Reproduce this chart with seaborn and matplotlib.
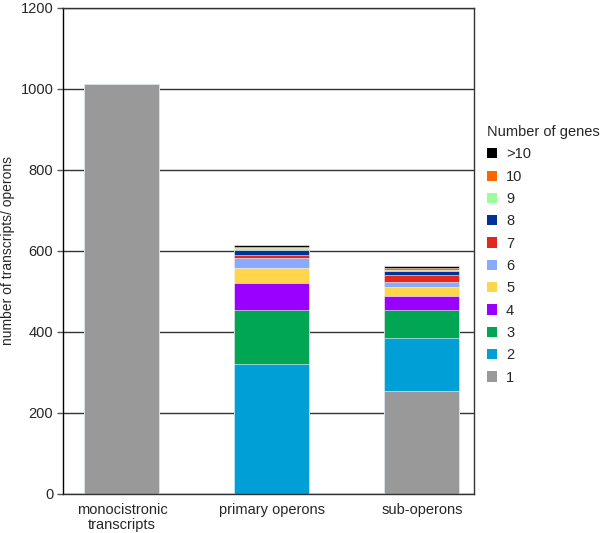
import numpy as np
import pandas as pd
import seaborn as sns
import matplotlib.pyplot as plt
from matplotlib.patches import Patch

categories = ['monocistronic\ntranscripts', 'primary operons', 'sub-operons']
gene_groups = ['1', '2', '3', '4', '5', '6', '7', '8', '9', '10', '>10']

# counts per group (1 gene ... >10 genes)
counts_mono = [1012, 0, 0, 0, 0, 0, 0, 0, 0, 0, 0]
counts_primary = [0, 320, 133, 68, 37, 25, 7, 12, 5, 2, 6]
counts_sub = [254, 131, 68, 36, 22, 12, 18, 10, 3, 4, 4]

colors = ['#999999', '#00a0d6', '#00a651', '#9900ff', '#ffd54a', '#88aaff',
          '#e0291f', '#003399', '#99ff99', '#ff6600', '#000000']

df = pd.DataFrame([counts_mono, counts_primary, counts_sub],
                  index=categories, columns=gene_groups)
cum = df.cumsum(axis=1)

sns.set_style('white')
plt.rcParams['font.family'] = ['Liberation Sans', 'DejaVu Sans']

fig = plt.figure(figsize=(6, 5.33), dpi=100)
ax = fig.add_axes([0.105, 0.0732, 0.685, 0.912])

# draw cumulative bars from the top down so lower groups sit in front
for grp, col in reversed(list(zip(gene_groups, colors))):
    d = pd.DataFrame({'cat': categories, 'val': cum[grp].values})
    sns.barplot(data=d, x='cat', y='val', color=col, width=0.5,
                edgecolor='white', linewidth=0.4, saturation=1, ax=ax, zorder=2)

ax.set_ylim(0, 1200)
ax.set_yticks(range(0, 1201, 200))
ax.set_xlim(-0.393, 2.347)
ax.yaxis.grid(True, color='#333333', linewidth=1, zorder=0)
ax.set_axisbelow(True)
ax.tick_params(axis='y', left=True, length=4, width=1, color='#555555', labelsize=10.5, pad=3)
ax.tick_params(axis='x', bottom=False, labelsize=10.5, pad=3)
for t in ax.get_xticklabels():
    t.set_linespacing(1.1)
ax.set_xlabel('')
ax.set_ylabel('number of transcripts/ operons', fontsize=10)
for s in ax.spines.values():
    s.set_color('#333333')
    s.set_linewidth(1)
ax.spines['left'].set_color('black')

handles = [Patch(facecolor=c, edgecolor='none') for c in colors][::-1]
labels = gene_groups[::-1]
fig.legend(handles, labels, title='Number of genes', loc='upper left',
           bbox_to_anchor=(0.79, 1 - 112 / 533), frameon=False, fontsize=10.5,
           title_fontsize=10.5, handlelength=0.7, handleheight=0.7,
           labelspacing=0.57, handletextpad=0.6, alignment='left')

fig.savefig('out.png', dpi=100)
